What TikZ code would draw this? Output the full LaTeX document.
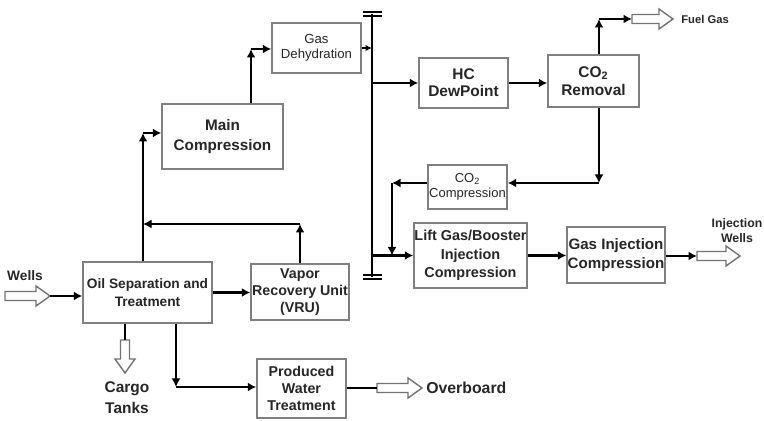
\documentclass[tikz,border=0pt]{standalone}
\usepackage{fontspec}
\setmainfont{Liberation Sans}
\usetikzlibrary{arrows.meta}
\tikzset{
  box/.style={draw=black!50, line width=0.85pt, fill=white, inner sep=0pt, align=center, text=black!85},
  bfnt/.style={font=\fontsize{8.3}{10}\selectfont\bfseries},
  rfnt/.style={font=\fontsize{7.5}{8.6}\selectfont},
  flow/.style={line width=1.3pt, -{Latex[length=0.17cm,width=0.18cm]}},
  plain/.style={line width=1.3pt},
  busline/.style={line width=1.7pt},
  capline/.style={line width=0.9pt},
  hollow/.style={draw=black!55, line width=0.8pt, fill=white, line join=miter},
  lbl/.style={text=black!85, inner sep=0pt, align=center},
  pics/harrow/.style={code={
    \draw[hollow] (0,-4.5) -- (#1-14,-4.5) -- (#1-14,-10) -- (#1,0) -- (#1-14,10) -- (#1-14,4.5) -- (0,4.5) -- cycle;
  }}
}
\begin{document}
\begin{tikzpicture}[x=0.02cm,y=-0.02cm]
\useasboundingbox (0,0) rectangle (764,421);

% boxes
\node[box, bfnt, font=\fontsize{7.8}{9.8}\selectfont\bfseries, minimum width=2.58cm, minimum height=1.22cm] (oil) at (147.5,292.5) {Oil Separation and\\Treatment};
\node[box, bfnt, font=\fontsize{8.1}{9.8}\selectfont\bfseries, minimum width=1.96cm, minimum height=1.12cm] (vru) at (300,292) {Vapor\\Recovery Unit\\(VRU)};
\node[box, bfnt, font=\fontsize{8.1}{9.6}\selectfont\bfseries, minimum width=1.78cm, minimum height=1.18cm] (pw) at (301.5,388.5) {Produced\\Water\\Treatment};
\node[box, bfnt, font=\fontsize{8.7}{11}\selectfont\bfseries, minimum width=2.42cm, minimum height=1.30cm] (main) at (222.5,136.5) {Main\\Compression};
\node[box, rfnt, minimum width=1.78cm, minimum height=1.00cm] (dehy) at (316.5,48) {Gas\\Dehydration};
\node[box, bfnt, font=\fontsize{8.8}{9.8}\selectfont\bfseries, minimum width=1.78cm, minimum height=1.00cm] (hc) at (463.5,83) {HC\\DewPoint};
\node[box, bfnt, font=\fontsize{8.8}{10}\selectfont\bfseries, minimum width=1.82cm, minimum height=1.04cm] (co2r) at (593.5,81) {CO\textsubscript{2}\\Removal};
\node[box, rfnt, font=\fontsize{7.4}{8.6}\selectfont, minimum width=1.58cm, minimum height=0.88cm] (co2c) at (467.5,187) {CO\textsubscript{2}\\Compression};
\node[box, bfnt, font=\fontsize{8.2}{10.6}\selectfont\bfseries, minimum width=2.26cm, minimum height=1.30cm] (lift) at (470.5,255.5) {Lift Gas/Booster\\Injection\\Compression};
\node[box, bfnt, font=\fontsize{8.6}{10.6}\selectfont\bfseries, minimum width=1.96cm, minimum height=1.12cm] (gic) at (616,255) {Gas Injection\\Compression};

% bus
\coordinate (busTop) at (372,14);
\coordinate (busBot) at (372,277);
\draw[busline] (busTop) -- (busBot);
\draw[capline] ([xshift=-0.18cm,yshift=0.04cm]busTop) -- ([xshift=0.2cm,yshift=0.04cm]busTop);
\draw[capline] ([xshift=-0.18cm,yshift=-0.04cm]busTop) -- ([xshift=0.2cm,yshift=-0.04cm]busTop);
\draw[capline] ([xshift=-0.18cm,yshift=0.04cm]busBot) -- ([xshift=0.2cm,yshift=0.04cm]busBot);
\draw[capline] ([xshift=-0.18cm,yshift=-0.04cm]busBot) -- ([xshift=0.2cm,yshift=-0.04cm]busBot);

% corner coordinates
\coordinate (c1) at (143,133);
\coordinate (c2) at (300,224);
\coordinate (c3) at (176,387);
\coordinate (c4) at (251,49);
\coordinate (c5) at (599,19);
\coordinate (c6) at (599,183);
\coordinate (c7) at (392,183);

% hollow arrows and their ends
\coordinate (wellsTail) at (5,296);
\coordinate (wellsTip) at (50,296);
\pic at (wellsTail) {harrow=45};
\coordinate (cargoTail) at (125,340);
\pic[rotate=-90] at (cargoTail) {harrow=33};
\coordinate (obTail) at (377,388);
\pic at (obTail) {harrow=45};
\coordinate (fuelTail) at (632,19);
\pic at (fuelTail) {harrow=41};
\coordinate (injTail) at (697,256);
\pic at (injTail) {harrow=43};

% connectors
\draw[flow] (wellsTip) -- (wellsTip -| oil.west);
\draw[flow] (oil.north -| c1) -- (c1);
\draw[flow] (c1) -- (c1 -| main.west);
\draw[flow] (vru.north) -- (c2);
\draw[flow] (c2) -- (c2 -| c1);
\draw[flow] (oil.east) -- (oil.east -| vru.west);
\draw[plain] (oil.south -| cargoTail) -- (cargoTail);
\draw[flow] (oil.south -| c3) -- (c3);
\draw[flow] (c3) -- (c3 -| pw.west);
\draw[plain] (pw.east |- obTail) -- (obTail);
\draw[flow] (main.north -| c4) -- (c4);
\draw[flow] (c4) -- (c4 -| dehy.west);
\draw[line width=1pt, -{Latex[length=0.13cm,width=0.13cm]}] (dehy.east) -- (dehy.east -| busTop);
\draw[flow] (busTop |- hc.west) -- (hc.west);
\draw[flow] (hc.east) -- (hc.east -| co2r.west);
\draw[flow] (co2r.north -| c5) -- (c5);
\draw[flow] (c5) -- (fuelTail);
\draw[flow] (co2r.south -| c6) -- (c6);
\draw[flow] (c6) -- (c6 -| co2c.east);
\draw[flow] (co2c.west |- c7) -- (c7);
\draw[flow] (c7) -- (c7 |- lift.west);
\draw[flow] (busTop |- lift.west) -- (lift.west);
\draw[flow] (lift.east) -- (lift.east -| gic.west);
\draw[flow] (gic.east |- injTail) -- (injTail);

% labels
\node[lbl, font=\fontsize{7.8}{9}\selectfont\bfseries] (wellsL) at (25,276) {Wells};
\node[lbl, font=\fontsize{8.8}{12}\selectfont\bfseries] (cargoL) at (127,398) {Cargo\\Tanks};
\node[lbl, anchor=west, font=\fontsize{9}{10}\selectfont\bfseries] (obL) at (426,388) {Overboard};
\node[lbl, anchor=west, font=\fontsize{6.4}{7}\selectfont\bfseries] (fuelL) at (681,19) {Fuel Gas};
\node[lbl, font=\fontsize{7}{8.6}\selectfont\bfseries] (injL) at (737,231) {Injection\\Wells};
\end{tikzpicture}
\end{document}
